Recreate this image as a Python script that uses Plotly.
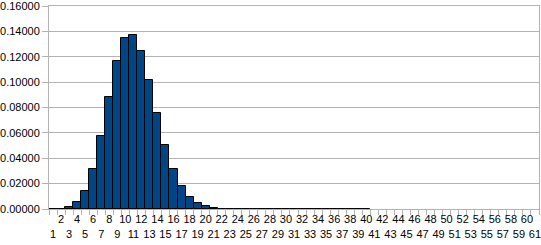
import plotly.graph_objects as go

categories = [str(i) for i in range(1, 62)]
values = [0.0001, 0.0003, 0.0013, 0.0055, 0.0142, 0.0313, 0.0575, 0.0880, 0.1166, 0.1345,
          0.1371, 0.1243, 0.1017, 0.0754, 0.0504, 0.0313, 0.0179, 0.0092, 0.0045, 0.0025,
          0.0005, 0.0002, 0.0001, 0.00005, 0.00003, 0.00002, 0.00001, 0.00001, 0.00001, 0.00001,
          0.00001, 0.00001, 0.00001, 0.00001, 0.00001, 0.00001, 0.00001, 0.00001, 0.00001, 0.00001,
          None, None, None, None, None, None, None, None, None, None,
          None, None, None, None, None, None, None, None, None, None, None]
tick_labels = [c if int(c) % 2 == 0 else " <br>" + c for c in categories]
y_ticks = [0, 0.02, 0.04, 0.06, 0.08, 0.10, 0.12, 0.14, 0.16]

grid = "#b3b3b3"
fig = go.Figure(go.Bar(
    x=categories, y=values,
    marker=dict(color="#004586", line=dict(color="#000000", width=1)),
))
fig.update_layout(
    width=541, height=245,
    margin=dict(l=49, r=2, t=6, b=36),
    paper_bgcolor="white", plot_bgcolor="white",
    bargap=0, showlegend=False,
    font=dict(family="Liberation Sans, Arial, sans-serif", size=11, color="black"),
)
fig.update_xaxes(
    type="category", tickmode="array", tickvals=categories, ticktext=tick_labels,
    tickangle=0, tickson="boundaries", ticks="outside", ticklen=5, tickcolor=grid,
    showgrid=False, showline=True, linecolor=grid, linewidth=1, mirror=True,
    range=[-0.5, 60.5], automargin=False, ticklabeloverflow="allow",
)
fig.update_yaxes(
    range=[0, 0.16], tickvals=y_ticks, tickformat=".5f",
    ticks="outside", ticklen=6, tickcolor=grid,
    showgrid=True, gridcolor=grid, gridwidth=1,
    showline=True, linecolor=grid, linewidth=1, mirror=True, zeroline=False,
    automargin=False, ticklabeloverflow="allow",
)
fig.write_html("out.html")
